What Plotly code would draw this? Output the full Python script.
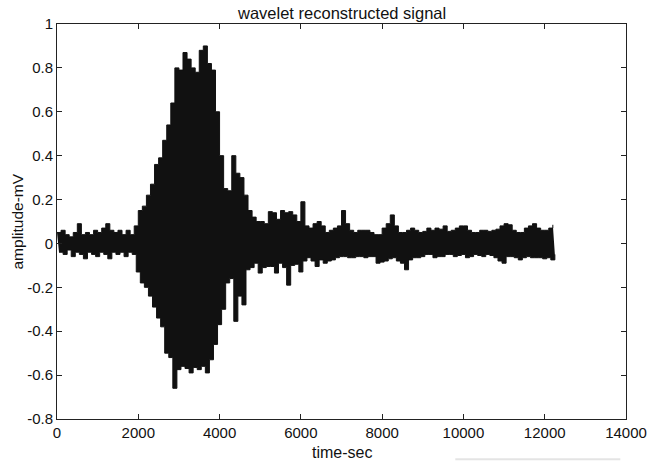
import plotly.graph_objects as go

# Hand-read envelope of the reconstructed signal (positive peaks at t = i*100,
# negative peaks at t = i*100 + 50), amplitude in mV
upper_peaks = [
    0.05, 0.06, 0.04, 0.03, 0.05, 0.09, 0.04, 0.05, 0.04, 0.06,
    0.05, 0.07, 0.09, 0.06, 0.05, 0.06, 0.04, 0.06, 0.04, 0.08,
    0.15, 0.17, 0.22, 0.27, 0.36, 0.39, 0.47, 0.54, 0.64, 0.80,
    0.79, 0.87, 0.84, 0.80, 0.78, 0.88, 0.90, 0.82, 0.79, 0.60,
    0.40, 0.25, 0.24, 0.40, 0.32, 0.30, 0.22, 0.15, 0.12, 0.10,
    0.10, 0.09, 0.145, 0.14, 0.11, 0.15, 0.14, 0.145, 0.13, 0.10,
    0.19, 0.08, 0.07, 0.09, 0.10, 0.08, 0.05, 0.06, 0.07, 0.08,
    0.15, 0.09, 0.06, 0.05, 0.06, 0.06, 0.06, 0.05, 0.04, 0.04,
    0.07, 0.09, 0.13, 0.08, 0.05, 0.05, 0.06, 0.07, 0.06, 0.05,
    0.055, 0.07, 0.06, 0.07, 0.065, 0.08, 0.055, 0.06, 0.07, 0.08,
    0.08, 0.06, 0.05, 0.05, 0.06, 0.06, 0.055, 0.06, 0.065, 0.08,
    0.09, 0.085, 0.06, 0.05, 0.05, 0.07, 0.08, 0.09, 0.07, 0.06,
    0.06, 0.07, 0.085,
]
lower_peaks = [
    -0.04, -0.05, -0.03, -0.06, -0.04, -0.05, -0.07, -0.04, -0.05, -0.06,
    -0.04, -0.05, -0.07, -0.04, -0.05, -0.04, -0.06, -0.04, -0.05, -0.13,
    -0.18, -0.20, -0.24, -0.29, -0.34, -0.38, -0.50, -0.52, -0.66, -0.575,
    -0.56, -0.57, -0.59, -0.565, -0.575, -0.56, -0.59, -0.53, -0.46, -0.37,
    -0.30, -0.18, -0.16, -0.355, -0.24, -0.28, -0.12, -0.11, -0.09, -0.135,
    -0.11, -0.105, -0.105, -0.135, -0.09, -0.11, -0.19, -0.10, -0.095, -0.13,
    -0.08, -0.065, -0.08, -0.105, -0.075, -0.09, -0.08, -0.075, -0.065, -0.06,
    -0.06, -0.065, -0.065, -0.06, -0.06, -0.065, -0.06, -0.06, -0.09, -0.085,
    -0.08, -0.07, -0.065, -0.08, -0.09, -0.12, -0.075, -0.065, -0.065, -0.06,
    -0.05, -0.05, -0.065, -0.06, -0.06, -0.05, -0.05, -0.06, -0.055, -0.05,
    -0.065, -0.06, -0.05, -0.055, -0.06, -0.05, -0.055, -0.065, -0.08, -0.09,
    -0.06, -0.06, -0.065, -0.075, -0.065, -0.06, -0.065, -0.065, -0.065, -0.07,
    -0.065, -0.075, -0.05,
]
sample_step = 100  # time-sec between successive positive peaks

x_tick_vals = [0, 2000, 4000, 6000, 8000, 10000, 12000, 14000]
x_tick_text = ["0", "2000", "4000", "6000", "8000", "10000", "12000", "14000"]
y_tick_vals = [-0.8, -0.6, -0.4, -0.2, 0, 0.2, 0.4, 0.6, 0.8, 1]
y_tick_text = ["-0.8", "-0.6", "-0.4", "-0.2", "0", "0.2", "0.4", "0.6", "0.8", "1"]

title_text = "wavelet reconstructed signal"
x_label = "time-sec"
y_label = "amplitude-mV"

t_upper = [i * sample_step for i in range(len(upper_peaks))]
t_lower = [i * sample_step + sample_step / 2 for i in range(len(lower_peaks))]

ink = "#111111"
fig = go.Figure()
fig.add_trace(go.Scatter(
    x=t_lower, y=lower_peaks, mode="lines",
    line=dict(color=ink, width=1, shape="hv"),
    hoverinfo="skip", showlegend=False,
))
fig.add_trace(go.Scatter(
    x=t_upper, y=upper_peaks, mode="lines",
    line=dict(color=ink, width=1, shape="hv"),
    fill="tonexty", fillcolor=ink,
    hoverinfo="skip", showlegend=False,
))

font_family = "Liberation Sans, Arial, sans-serif"
axis_common = dict(
    showgrid=False, zeroline=False,
    showline=True, linecolor="#222222", linewidth=1,
    mirror="ticks", ticks="inside", ticklen=5, tickcolor="#222222",
    tickfont=dict(family=font_family, size=15, color="#111111"),
)
fig.update_xaxes(range=[0, 14000], tickmode="array",
                 tickvals=x_tick_vals, ticktext=x_tick_text, **axis_common)
fig.update_yaxes(range=[-0.8, 1], tickmode="array",
                 tickvals=y_tick_vals, ticktext=y_tick_text, **axis_common)

fig.update_layout(
    width=659, height=462,
    margin=dict(l=57, r=26, t=24, b=43),
    paper_bgcolor="white", plot_bgcolor="white",
    font=dict(family=font_family, color="#111111"),
    annotations=[
        dict(text=title_text, xref="paper", yref="paper", x=0.5, y=1,
             xanchor="center", yanchor="middle", yshift=11,
             showarrow=False, font=dict(size=16.5)),
        dict(text=x_label, xref="paper", yref="paper", x=0.5, y=0,
             xanchor="center", yanchor="middle", yshift=-33,
             showarrow=False, font=dict(size=16)),
        dict(text=y_label, xref="paper", yref="paper", x=0, y=0.5,
             xanchor="center", yanchor="middle", xshift=-40, textangle=-90,
             showarrow=False, font=dict(size=15.5)),
    ],
    shapes=[
        dict(type="line", xref="paper", yref="paper",
             x0=0.70, x1=0.99, y0=-0.102, y1=-0.102,
             line=dict(color="#e4e4e4", width=2)),
    ],
)

fig.write_html("out.html")
